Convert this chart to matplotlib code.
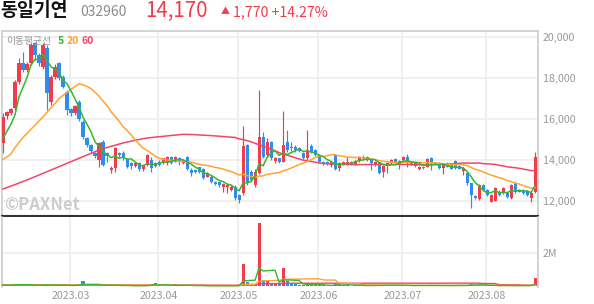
import matplotlib
matplotlib.use('Agg')
import matplotlib.pyplot as plt
import numpy as np
import pandas as pd

plt.rcParams['font.family'] = ['Noto Sans CJK KR', 'DejaVu Sans']

# ---------------- data ----------------
month_labels = ['2023.03', '2023.04', '2023.05', '2023.06', '2023.07', '2023.08']
month_index = [17, 39, 59, 79, 100, 121]   # trading-day index of first day of month

opens = [14850, 16160, 16280, 16520, 17820, 18710, 18390, 18750, 19690, 19120,
         18550, 19450, 16850, 18060, 18710, 18060, 17330, 16470, 16300, 16840,
         15870, 15050, 14730, 14325, 14000, 14890, 14325, 13512, 13600, 14325,
         14360, 14030, 13840, 13720, 13840, 13545, 13760, 14000, 13710, 13900,
         13840, 13920, 14130, 13920, 14080, 13840, 14160, 13510, 13510, 13640,
         13545, 13190, 13190, 12940, 12940, 12670, 12670, 12540, 12670, 12290,
         12380, 14730, 13430, 12780, 13350, 15100, 14240, 14900, 13950, 14080,
         13920, 14900, 14650, 14650, 14570, 14330, 14080, 14680, 14490, 14240,
         13920, 13920, 13760, 14240, 13590, 13810, 13790, 13810, 13810, 13970,
         14160, 14000, 14000, 13760, 13880, 13430, 13760, 13840, 14030, 13970,
         14000, 14160, 13920, 13870, 13560, 13670, 13670, 14100, 13840, 13840,
         13610, 13790, 13760, 13950, 13700, 13460, 13350, 12863, 12244, 12100,
         12780, 12540, 11967, 12000, 12455, 12375, 12400, 12163, 12863, 12455,
         12540, 12500, 12130, 12450]
highs = [16300, 16400, 16550, 17900, 18960, 19280, 18800, 19700, 19770, 19200,
         19700, 19600, 18150, 18700, 18800, 18150, 17400, 16550, 16700, 16950,
         15950, 15100, 14780, 14400, 14870, 14975, 14400, 13700, 14650, 14400,
         14450, 14100, 13900, 13900, 13880, 13800, 14300, 14160, 13900, 14000,
         14120, 14200, 14200, 14200, 14160, 14050, 14200, 13600, 13560, 13680,
         13600, 13420, 13250, 12980, 12980, 12860, 12830, 12760, 12760, 12330,
         15660, 14800, 13500, 13550, 17410, 15380, 15060, 14950, 14150, 14120,
         16400, 15480, 14900, 14720, 14650, 14400, 15460, 14780, 14550, 14300,
         13950, 13960, 13960, 14280, 13880, 13960, 14130, 13960, 14000, 14200,
         14250, 14200, 14050, 13960, 13920, 13750, 13880, 14050, 14080, 14000,
         14180, 14290, 13950, 13900, 13700, 13700, 14080, 14130, 13880, 13880,
         13800, 13880, 13850, 14000, 13750, 13680, 13420, 12900, 12290, 12820,
         12830, 12580, 12320, 12680, 12520, 12700, 12450, 12820, 12900, 12600,
         12600, 12560, 12450, 14400]
lows = [14330, 16000, 16200, 16450, 17700, 18310, 18300, 18650, 18900, 18600,
        18450, 16440, 16700, 17950, 17900, 17500, 16190, 16150, 16200, 15900,
        15000, 14650, 14350, 14100, 13640, 13700, 13920, 13350, 13430, 14150,
        14000, 13600, 13540, 13650, 13480, 13480, 13700, 13430, 13650, 13700,
        13800, 13750, 13800, 13880, 13780, 13800, 13500, 13200, 13350, 13380,
        13050, 13150, 12900, 12800, 12700, 12450, 12380, 12480, 12050, 11890,
        12300, 12800, 12950, 12700, 13300, 14100, 14150, 14000, 13850, 13850,
        13880, 14400, 14450, 14400, 14400, 14050, 14000, 14350, 14200, 13880,
        13750, 13750, 13680, 13500, 13480, 13760, 13760, 13780, 13780, 13920,
        14030, 13950, 13510, 13700, 13330, 13190, 13380, 13800, 13880, 13540,
        13960, 13640, 13780, 13650, 13500, 13560, 13640, 13510, 13740, 13560,
        13320, 13650, 13560, 13560, 13540, 13270, 12800, 11673, 12080, 12050,
        12500, 12250, 11940, 11980, 12250, 12330, 12150, 12120, 12400, 12420,
        12330, 12250, 11935, 12380]
closes = [16080, 16320, 16470, 17820, 18710, 18390, 18700, 19610, 19120, 18710,
          19610, 17250, 18060, 18550, 17980, 17580, 16440, 16280, 16630, 15980,
          15100, 14730, 14455, 14195, 14810, 13755, 14195, 13625, 14570, 14245,
          14080, 13675, 13710, 13840, 13545, 13760, 14240, 13590, 13840, 13780,
          14080, 14130, 13840, 14130, 13970, 14000, 13545, 13380, 13410, 13430,
          13100, 13380, 12940, 12830, 12780, 12810, 12780, 12700, 12130, 12050,
          14700, 12860, 13020, 13430, 15100, 14160, 14900, 14080, 14080, 13920,
          14750, 14480, 14570, 14500, 14450, 14120, 14490, 14400, 14240, 13920,
          13790, 13790, 13920, 13545, 13840, 13920, 13920, 13920, 13970, 14130,
          14080, 14130, 13840, 13920, 13380, 13700, 13840, 14000, 13920, 13810,
          14130, 13920, 13810, 13710, 13670, 13590, 14030, 13840, 13770, 13610,
          13760, 13680, 13580, 13595, 13580, 13620, 12863, 12293, 12130, 12780,
          12540, 12290, 12290, 12620, 12290, 12620, 12210, 12780, 12455, 12540,
          12380, 12290, 12400, 14170]
volumes = [90000, 70000, 80000, 160000, 110000, 90000, 70000, 100000, 80000, 70000,
           90000, 120000, 90000, 70000, 60000, 60000, 80000, 50000, 60000, 120000,
           300000, 90000, 70000, 60000, 110000, 100000, 60000, 50000, 90000, 50000,
           50000, 50000, 40000, 40000, 50000, 40000, 70000, 130000, 180000, 50000,
           60000, 60000, 50000, 120000, 50000, 40000, 110000, 50000, 40000, 40000,
           50000, 40000, 40000, 30000, 40000, 50000, 40000, 40000, 60000, 60000,
           1340000, 270000, 100000, 110000, 3770000, 390000, 360000, 170000, 170000, 170000,
           1120000, 300000, 170000, 120000, 90000, 90000, 200000, 110000, 80000, 90000,
           60000, 50000, 60000, 120000, 150000, 60000, 120000, 50000, 60000, 70000,
           50000, 50000, 80000, 50000, 90000, 80000, 60000, 100000, 70000, 60000,
           60000, 70000, 40000, 50000, 90000, 40000, 80000, 70000, 40000, 50000,
           70000, 90000, 50000, 60000, 40000, 60000, 110000, 150000, 70000, 100000,
           50000, 60000, 60000, 70000, 40000, 60000, 50000, 40000, 50000, 50000,
           60000, 40000, 80000, 530000]

# moving-average values at the start of the window (earlier closes not shown)
ma5_head = [15060, 15400, 15750, 16200]
ma20_head = [14030, 14150, 14300, 14600, 14850, 15100, 15300, 15500, 15700, 15900,
             16100, 16330, 16550, 16750, 17000, 17150, 17300, 17450, 17580]
ma60_head = [12585, 12660, 12730, 12800, 12880, 12950, 13025, 13105, 13185, 13270,
             13350, 13430, 13512, 13595, 13675, 13755, 13840, 13920, 14000, 14080,
             14165, 14245, 14325, 14405, 14488, 14550, 14610, 14665, 14720, 14775,
             14830, 14875, 14915, 14960, 15000, 15040, 15073, 15095, 15115, 15135,
             15155, 15175, 15195, 15215, 15235, 15254, 15250, 15245, 15235, 15228,
             15220, 15205, 15190, 15175, 15160, 15146, 15130, 15115, 15100]

# ---------------- derived ----------------
cl = pd.Series(closes, dtype=float)
def ma(head, n):
    s = cl.rolling(n).mean()
    s.iloc[:len(head)] = head
    return s.values
ma5 = ma(ma5_head, 5)
ma20 = ma(ma20_head, 20)
ma60 = ma(ma60_head, 60)
vol = pd.Series(volumes, dtype=float)
vma5 = vol.rolling(5, min_periods=1).mean().values
vma20 = vol.rolling(20, min_periods=1).mean().values
vma60 = vol.rolling(60, min_periods=1).mean().values

x = np.arange(len(closes))
RED = '#f23c4b'
BLUE = '#2e8ef0'
C5 = '#35b72f'
C20 = '#ffa42e'
C60 = '#f2456a'
GRID = '#eeeeee'
BORDER = '#cccccc'
LBL = '#999999'

o = np.array(opens, float); c = np.array(closes, float)
h = np.array(highs, float); l = np.array(lows, float)
up = c >= o
cols = np.where(up, RED, BLUE)

W, H = 594, 304
fig = plt.figure(figsize=(W / 100, H / 100), dpi=100)
ax = fig.add_axes([2 / W, 1 - 216 / H, 535.5 / W, 185 / H])
axv = fig.add_axes([2 / W, 1 - 287 / H, 535.5 / W, 70 / H], sharex=ax)

# price panel
ax.vlines(x, l, h, colors=cols, linewidth=0.85, zorder=3)
body_bottom = np.minimum(o, c)
body_h = np.maximum(np.abs(c - o), 50)
ax.bar(x, body_h, bottom=body_bottom, width=0.76, color=cols, linewidth=0, zorder=4)
ax.plot(x, ma60, color=C60, lw=1.1, zorder=5)
ax.plot(x, ma20, color=C20, lw=1.1, zorder=5)
ax.plot(x, ma5, color=C5, lw=1.1, zorder=6)

ax.set_xlim(-0.25, 133.6)
ax.set_ylim(11268, 20293)
yt = [12000, 14000, 16000, 18000, 20000]
ax.set_yticks(yt)
ax.set_yticklabels([f'{v:,}' for v in yt])
ax.yaxis.tick_right()
ax.tick_params(axis='y', length=0, pad=4, labelsize=7.7, labelcolor=LBL)
ax.tick_params(axis='x', length=0, labelbottom=False)
xt = [m - 0.15 for m in month_index]
ax.set_xticks(xt)
ax.grid(True, color=GRID, lw=1.2, zorder=0)
ax.set_axisbelow(True)
for s in ['top', 'right', 'left']:
    ax.spines[s].set_color(BORDER)
    ax.spines[s].set_linewidth(1.2)
ax.spines['bottom'].set_color('#333333')
ax.spines['bottom'].set_linewidth(1.5)

# volume panel
axv.bar(x, vol.values, width=0.76, color=cols, linewidth=0, zorder=3)
axv.plot(x, vma60, color=C60, lw=1.0, zorder=4)
axv.plot(x, vma20, color=C20, lw=1.0, zorder=4)
axv.plot(x, vma5, color=C5, lw=1.0, zorder=5)
axv.set_ylim(-30000, 4150000)
axv.set_yticks([2000000])
axv.set_yticklabels(['2M'])
axv.yaxis.tick_right()
axv.tick_params(axis='y', length=0, pad=4, labelsize=7.7, labelcolor=LBL)
axv.set_xticks(xt)
axv.set_xticklabels(month_labels)
axv.tick_params(axis='x', length=0, pad=3, labelsize=7.7, labelcolor=LBL)
axv.grid(True, color=GRID, lw=1.2, zorder=0)
axv.set_axisbelow(True)
axv.spines['top'].set_visible(False)
axv.spines['bottom'].set_visible(False)
for s in ['right', 'left']:
    axv.spines[s].set_color(BORDER)
    axv.spines[s].set_linewidth(1.2)

# header texts
def ft(px, py, s, **kw):
    fig.text(px / W, 1 - py / H, s, **kw)

ft(0, 11, '동일기연', fontsize=13.2, fontweight='bold', color='#111111', va='center', ha='left')
ft(80, 12.5, '032960', fontsize=10, color='#8c8c8c', va='center', ha='left')
ft(145, 10.5, '14,170', fontsize=14.8, color=RED, va='center', ha='left')
ft(221, 12, '▲', fontsize=6.5, color=RED, va='center', ha='left')
ft(233, 12.5, '1,770 +14.27%', fontsize=10.2, color=RED, va='center', ha='left')

# legend
ft(6, 41, '이동평균선', fontsize=7, color=LBL, va='center', ha='left')
ft(58, 41, '5', fontsize=7.5, color=C5, fontweight='bold', va='center', ha='left')
ft(67, 41, '20', fontsize=7.5, color=C20, fontweight='bold', va='center', ha='left')
ft(82, 41, '60', fontsize=7.5, color=C60, fontweight='bold', va='center', ha='left')

# watermark
ft(4, 205, '©PAXNet', fontsize=12, fontweight='bold', color='#cdcdcd', va='center', ha='left')

fig.savefig('out.png', dpi=100)
